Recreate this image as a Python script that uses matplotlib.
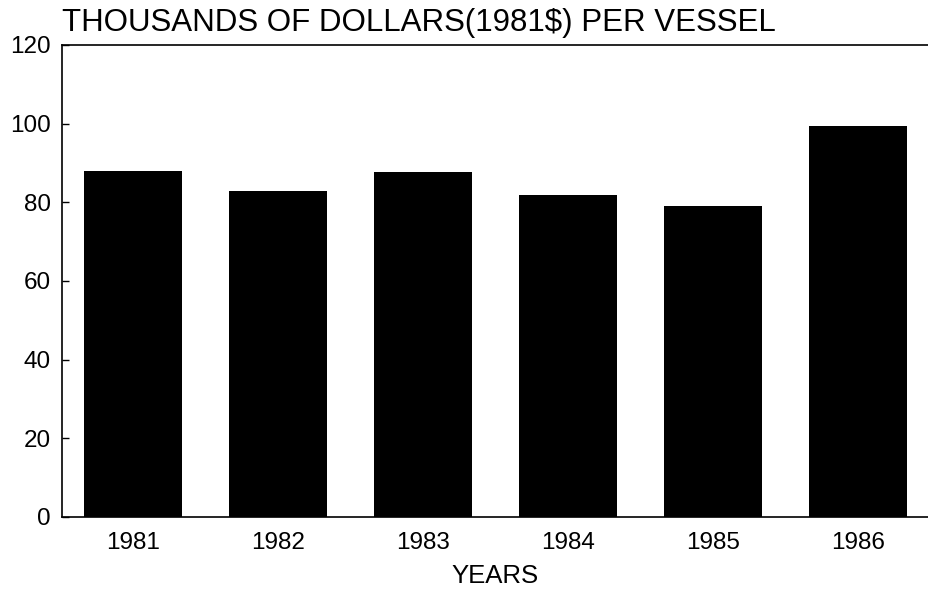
import matplotlib
matplotlib.use("Agg")
import matplotlib.pyplot as plt

years = ["1981", "1982", "1983", "1984", "1985", "1986"]
values = [88.0, 83.0, 87.7, 81.9, 79.0, 99.3]
yticks = [0, 20, 40, 60, 80, 100, 120]

plt.rcParams['font.family'] = ['Liberation Sans', 'DejaVu Sans']

fig = plt.figure(figsize=(9.29, 5.96), dpi=100)
ax = fig.add_axes([0.0667, 0.1326, 0.9333, 0.7919])

x = range(len(years))
ax.bar(x, values, width=0.67, color='black')

ax.set_xlim(-0.49, 5.49)
ax.set_ylim(0, 120)
ax.set_yticks(yticks)
ax.set_yticklabels([str(v) for v in yticks], fontsize=17.5)
ax.set_xticks(list(x))
ax.set_xticklabels(years, fontsize=17.5)
ax.tick_params(axis='y', direction='in', length=5, width=1, pad=8)
ax.tick_params(axis='x', length=0, pad=11)

for s in ax.spines.values():
    s.set_linewidth(1.2)

ax.set_xlabel('YEARS', fontsize=18.5, labelpad=7)
fig.text(0.0667, 0.962, 'THOUSANDS OF DOLLARS(1981$) PER VESSEL', fontsize=22.5,
         ha='left', va='center')

fig.savefig('out.png', dpi=100)
